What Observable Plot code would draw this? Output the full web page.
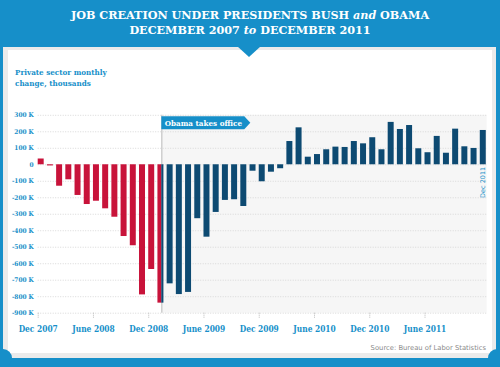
<!DOCTYPE html>
<html><head><meta charset="utf-8">
<script src="https://cdn.jsdelivr.net/npm/d3@7"></script>
<script src="https://cdn.jsdelivr.net/npm/@observablehq/plot@0.6"></script>
<style>
body{margin:0;background:#fff;}
#wrap{position:relative;width:500px;height:367px;background:#168fc9;overflow:hidden;font-family:"DejaVu Serif",serif;}
#panel{position:absolute;left:3px;top:47px;width:493px;height:311px;background:#ebebeb;}
#inner{position:absolute;left:8px;top:50px;width:484px;height:303px;background:#fff;}
#notch{position:absolute;left:237px;top:46px;width:0;height:0;border-left:12.5px solid transparent;border-right:12.5px solid transparent;border-top:11px solid #168fc9;}
.corner{position:absolute;width:18px;height:18px;border-radius:50%;background:#168fc9;top:349px;}
#title{position:absolute;left:0;top:8px;width:500px;text-align:center;color:#fff;font-weight:bold;font-size:11.2px;line-height:15px;}
#title i{font-weight:bold;text-transform:none;}
#ylab{position:absolute;left:15px;top:67px;color:#168fc9;font-weight:bold;font-size:8px;line-height:10.5px;font-family:"DejaVu Serif Condensed","DejaVu Serif",serif;}
#src{position:absolute;right:14px;top:344px;color:#8a8a8a;font-family:"DejaVu Sans",sans-serif;font-size:6.8px;}
#chart{position:absolute;left:0;top:0;}
</style></head>
<body>
<div id="wrap">
  <div id="panel"></div>
  <div id="inner"></div>
  <div class="corner" style="left:-6px"></div>
  <div class="corner" style="left:488px"></div>
  <div id="notch"></div>
  <div id="title">JOB CREATION UNDER PRESIDENTS BUSH <i>and</i> OBAMA<br>DECEMBER 2007 <i>to</i> DECEMBER 2011</div>
  <div id="ylab">Private sector monthly<br>change, thousands</div>
  <div id="chart"></div>
  <div id="src">Source: Bureau of Labor Statistics</div>
</div>
<script>
// ---- data ----
const months = [
  "Dec 2007",
  "Jan 2008","Feb 2008","Mar 2008","Apr 2008","May 2008","Jun 2008","Jul 2008","Aug 2008","Sep 2008","Oct 2008","Nov 2008","Dec 2008",
  "Jan 2009","Feb 2009","Mar 2009","Apr 2009","May 2009","Jun 2009","Jul 2009","Aug 2009","Sep 2009","Oct 2009","Nov 2009","Dec 2009",
  "Jan 2010","Feb 2010","Mar 2010","Apr 2010","May 2010","Jun 2010","Jul 2010","Aug 2010","Sep 2010","Oct 2010","Nov 2010","Dec 2010",
  "Jan 2011","Feb 2011","Mar 2011","Apr 2011","May 2011","Jun 2011","Jul 2011","Aug 2011","Sep 2011","Oct 2011","Nov 2011","Dec 2011"
];
const change = [
  35,
  -7,-130,-91,-186,-241,-221,-267,-318,-435,-491,-789,-635,
  -839,-722,-787,-774,-327,-439,-289,-216,-212,-253,-39,-103,
  -45,-24,141,224,46,62,91,107,105,141,127,164,
  91,257,214,238,97,73,172,70,216,109,99,208
];
const xTickMonths = ["Dec 2007","Jun 2008","Dec 2008","Jun 2009","Dec 2009","Jun 2010","Dec 2010","Jun 2011"];
const xTickLabels = ["Dec 2007","June 2008","Dec 2008","June 2009","Dec 2009","June 2010","Dec 2010","June 2011"];
const yTicks = [300,200,100,0,-100,-200,-300,-400,-500,-600,-700,-800,-900];
const inaugMonth = "Jan 2009";
const inaugDayFraction = 20/31;
const endNote = {month: "Dec 2011", value: -107, text: "Dec 2011"};

// ---- build ----
const blue = "#168fc9";
const barW = 0.65;
const iIn = months.indexOf(inaugMonth);
const xIn = iIn + barW * inaugDayFraction;
const segs = [];
months.forEach((m, i) => {
  const v = change[i];
  if (i < iIn) segs.push({x1: i, x2: i + barW, v, p: "Bush"});
  else if (i > iIn) segs.push({x1: i, x2: i + barW, v, p: "Obama"});
  else {
    segs.push({x1: i, x2: xIn, v, p: "Bush"});
    segs.push({x1: xIn, x2: i + barW, v, p: "Obama"});
  }
});
const xMax = months.length - 1 + 0.75;
const tickPos = xTickMonths.map(m => months.indexOf(m));

function obamaLabel(index, scales, values, dims) {
  const x0 = scales.x(xIn), y0 = scales.y(300) + 1.5;
  const w = 83, h = 13, tip = 6;
  const g = d3.create("svg:g");
  g.append("path").attr("d", `M${x0},${y0}h${w}l${tip},${h/2}l${-tip},${h/2}h${-w}z`).attr("fill", blue);
  g.append("text").attr("x", x0 + 3.5).attr("y", y0 + h/2).attr("dy", "0.35em")
    .attr("text-anchor", "start")
    .attr("fill", "#fff").attr("font-weight", "bold").attr("font-size", 8)
    .attr("font-family", "'DejaVu Serif Condensed','DejaVu Serif',serif")
    .text("Obama takes office");
  return g.node();
}

const chart = Plot.plot({
  width: 500, height: 367,
  marginLeft: 37.7, marginRight: 500 - 37.7 - xMax * 9.21,
  marginTop: 114.8, marginBottom: 54.3,
  style: {background: "transparent", overflow: "visible"},
  x: {domain: [0, xMax], axis: null},
  y: {domain: [-900, 300], axis: null},
  color: {domain: ["Bush", "Obama"], range: ["#c8133a", "#0d4a72"]},
  marks: [
    Plot.rect([0], {x1: xIn, x2: xMax, y1: -900, y2: 300, fill: "#f6f6f6"}),
    Plot.ruleY(yTicks, {stroke: "#d8d8d8", strokeDasharray: "1,1.5"}),
    Plot.ruleX([xIn], {y1: -900, y2: 300, stroke: "#cfcfcf", strokeWidth: 1.5}),
    Plot.rect(segs, {x1: "x1", x2: "x2", y1: 0, y2: "v", fill: "p"}),
    Plot.axisY(yTicks, {tickSize: 0, tickPadding: 4.5, fill: blue, fontSize: 6.5, fontWeight: "bold",
      fontFamily: "'DejaVu Serif Condensed','DejaVu Serif',serif",
      tickFormat: d => d === 0 ? "0" : `${d} K`}),
    Plot.axisX(tickPos, {anchor: "bottom", tickSize: 6, tickPadding: 7, stroke: "#bbb", strokeDasharray: "1,1",
      fill: blue, fontSize: 8.3, fontWeight: "bold",
      fontFamily: "'DejaVu Serif Condensed','DejaVu Serif',serif",
      tickFormat: (d, i) => xTickLabels[i]}),
    Plot.text([endNote], {x: d => months.indexOf(d.month) + barW/2, y: "value", text: "text", rotate: -90,
      fill: blue, fontSize: 6.5, fontFamily: "'DejaVu Sans',sans-serif"}),
    obamaLabel
  ]
});
document.getElementById("chart").appendChild(chart);
</script>
</body></html>
